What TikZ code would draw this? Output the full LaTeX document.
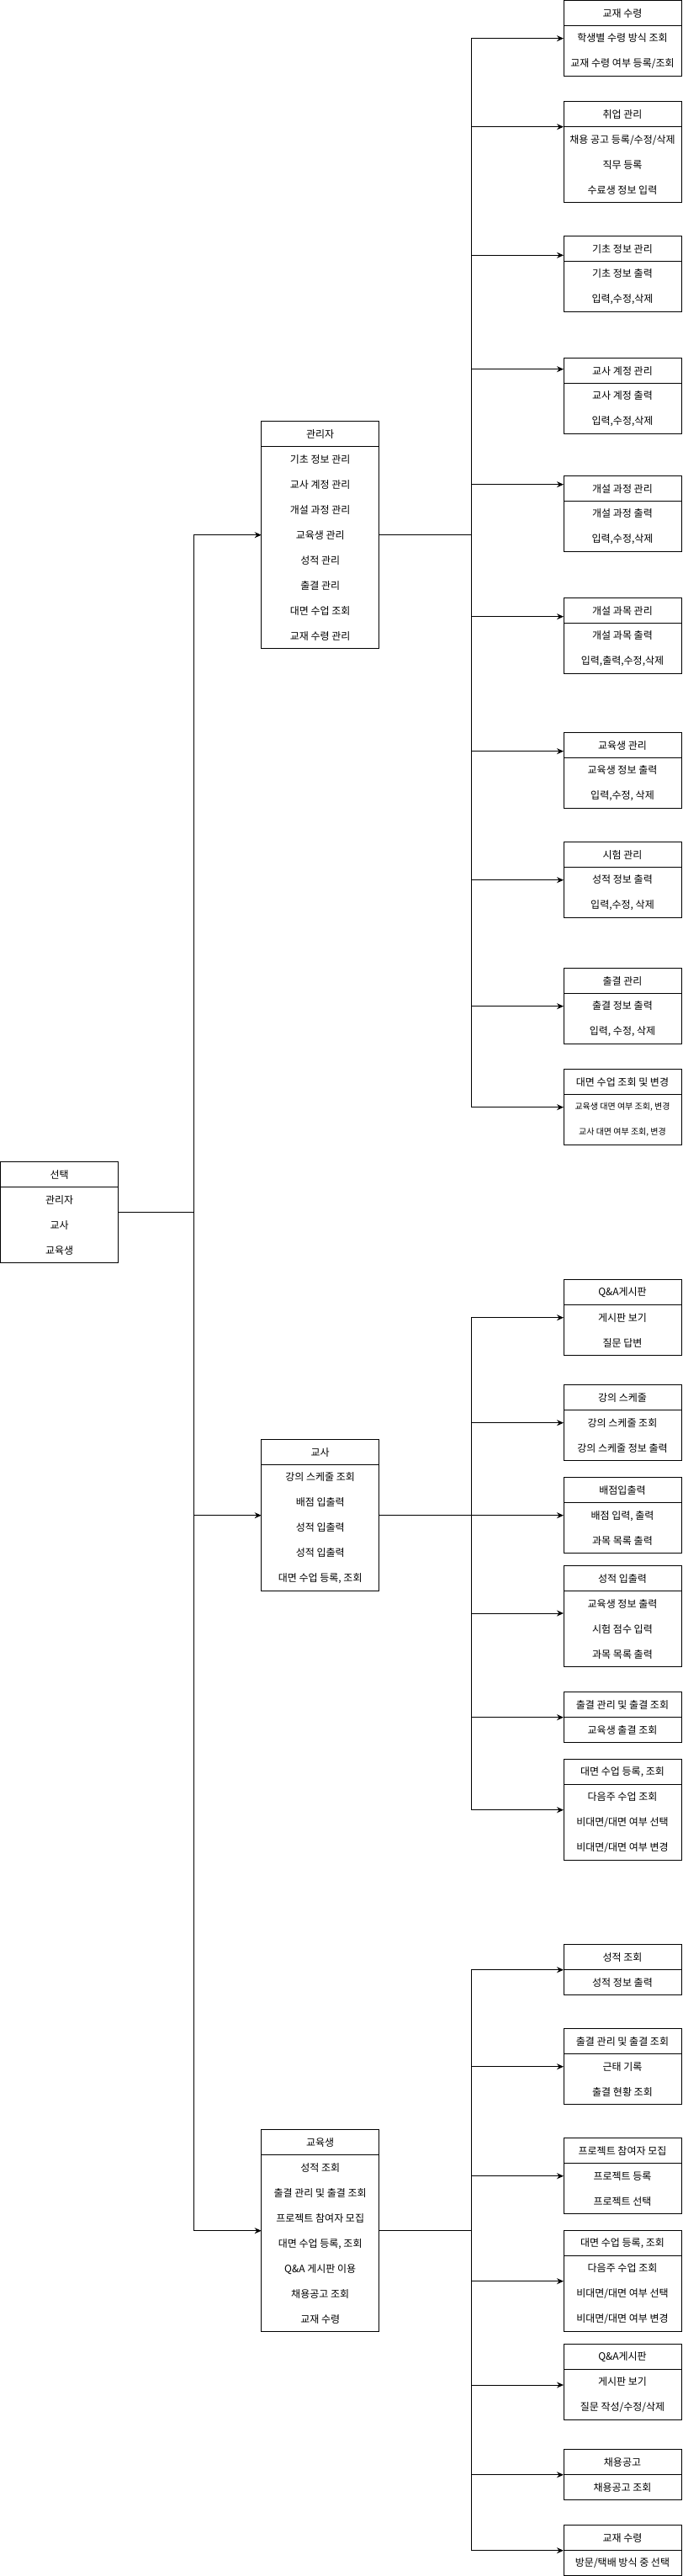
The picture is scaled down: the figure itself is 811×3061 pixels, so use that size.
\documentclass[tikz,border=0pt]{standalone}
\usepackage{fontspec}
\setmainfont{Noto Sans CJK KR}
\usetikzlibrary{positioning,arrows.meta}
\begin{document}
\begin{tikzpicture}[x=1pt,y=-1pt]
        \tikzstyle{every node}=[rectangle, draw=black, line width=1pt, inner sep=0pt, outer sep=0pt, minimum width=140pt, align=center, font=\fontsize{12}{30}\selectfont, text=black]
        \tikzstyle{head}=[minimum height=30pt, anchor=north west]
        \tikzstyle{edge}=[black, line width=1pt]
        \tikzstyle{arr}=[edge, -{Stealth[length=8pt, width=7pt]}]

        \useasboundingbox (0,0) rectangle (811,3061);

        % left: choice and the three roles
        \node[head] (sel) at (0.7,1380.7)         {선택};
        \node (selb) [below=0pt of sel, minimum height=90pt]  {관리자\\교사\\교육생};

        \node[head] (admin) at (310.7,500.7)      {관리자};
        \node (adminb) [below=0pt of admin, minimum height=240pt] {기초 정보 관리\\교사 계정 관리\\개설 과정 관리\\교육생 관리\\성적 관리\\출결 관리\\대면 수업 조회\\교재 수령 관리};
        \node[head] (teacher) at (310.7,1710.7)   {교사};
        \node (teacherb) [below=0pt of teacher, minimum height=150pt] {강의 스케줄 조회\\배점 입출력\\성적 입출력\\성적 입출력\\대면 수업 등록, 조회};
        \node[head] (student) at (310.7,2530.7)   {교육생};
        \node (studentb) [below=0pt of student, minimum height=210pt] {성적 조회\\출결 관리 및 출결 조회\\프로젝트 참여자 모집\\대면 수업 등록, 조회\\Q\&A 게시판 이용\\채용공고 조회\\교재 수령};

        % admin menus
        \node[head] (a1) at (670,0.7)      {교재 수령};
        \node (a1b) [below=0pt of a1, minimum height=60pt]   {학생별 수령 방식 조회\\교재 수령 여부 등록/조회};
        \node[head] (a2) at (670,120.7)    {취업 관리};
        \node (a2b) [below=0pt of a2, minimum height=90pt]   {채용 공고 등록/수정/삭제\\직무 등록\\수료생 정보 입력};
        \node[head] (a3) at (670,280.7)    {기초 정보 관리};
        \node (a3b) [below=0pt of a3, minimum height=60pt]   {기초 정보 출력\\입력,수정,삭제};
        \node[head] (a4) at (670,425.7)    {교사 계정 관리};
        \node (a4b) [below=0pt of a4, minimum height=60pt]   {교사 계정 출력\\입력,수정,삭제};
        \node[head] (a5) at (670,565.7)    {개설 과정 관리};
        \node (a5b) [below=0pt of a5, minimum height=60pt]   {개설 과정 출력\\입력,수정,삭제};
        \node[head] (a6) at (670,710.7)    {개설 과목 관리};
        \node (a6b) [below=0pt of a6, minimum height=60pt]   {개설 과목 출력\\입력,출력,수정,삭제};
        \node[head] (a7) at (670,870.7)    {교육생 관리};
        \node (a7b) [below=0pt of a7, minimum height=60pt]   {교육생 정보 출력\\입력,수정, 삭제};
        \node[head] (a8) at (670,1000.7)   {시험 관리};
        \node (a8b) [below=0pt of a8, minimum height=60pt]   {성적 정보 출력\\입력,수정, 삭제};
        \node[head] (a9) at (670,1150.7)   {출결 관리};
        \node (a9b) [below=0pt of a9, minimum height=60pt]   {출결 정보 출력\\입력, 수정, 삭제};
        \node[head] (a10) at (670,1270.7)  {대면 수업 조회 및 변경};
        \node (a10b) [below=0pt of a10, minimum height=60pt, font=\fontsize{10}{30}\selectfont] {교육생 대면 여부 조회, 변경\\교사 대면 여부 조회, 변경};

        % teacher menus
        \node[head] (t1) at (670,1520.7)   {Q\&A게시판};
        \node (t1b) [below=0pt of t1, minimum height=60pt]   {게시판 보기\\질문 답변};
        \node[head] (t2) at (670,1645.7)   {강의 스케줄};
        \node (t2b) [below=0pt of t2, minimum height=60pt]   {강의 스케줄 조회\\강의 스케줄 정보 출력};
        \node[head] (t3) at (670,1755.7)   {배점입출력};
        \node (t3b) [below=0pt of t3, minimum height=60pt]   {배점 입력, 출력\\과목 목록 출력};
        \node[head] (t4) at (670,1860.7)   {성적 입출력};
        \node (t4b) [below=0pt of t4, minimum height=90pt]   {교육생 정보 출력\\시험 점수 입력\\과목 목록 출력};
        \node[head] (t5) at (670,2010.7)   {출결 관리 및 출결 조회};
        \node (t5b) [below=0pt of t5, minimum height=30pt]   {교육생 출결 조회};
        \node[head] (t6) at (670,2090.7)   {대면 수업 등록, 조회};
        \node (t6b) [below=0pt of t6, minimum height=90pt]   {다음주 수업 조회\\비대면/대면 여부 선택\\비대면/대면 여부 변경};

        % student menus
        \node[head] (s1) at (670,2310.7)   {성적 조회};
        \node (s1b) [below=0pt of s1, minimum height=30pt]   {성적 정보 출력};
        \node[head] (s2) at (670,2410.7)   {출결 관리 및 출결 조회};
        \node (s2b) [below=0pt of s2, minimum height=60pt]   {근태 기록\\출결 현황 조회};
        \node[head] (s3) at (670,2540.7)   {프로젝트 참여자 모집};
        \node (s3b) [below=0pt of s3, minimum height=60pt]   {프로젝트 등록\\프로젝트 선택};
        \node[head] (s4) at (670,2650.7)   {대면 수업 등록, 조회};
        \node (s4b) [below=0pt of s4, minimum height=90pt]   {다음주 수업 조회\\비대면/대면 여부 선택\\비대면/대면 여부 변경};
        \node[head] (s5) at (670,2785.7)   {Q\&A게시판};
        \node (s5b) [below=0pt of s5, minimum height=60pt]   {게시판 보기\\질문 작성/수정/삭제};
        \node[head] (s6) at (670,2910.7)   {채용공고};
        \node (s6b) [below=0pt of s6, minimum height=30pt]   {채용공고 조회};
        \node[head] (s7) at (670,3000.7)   {교재 수령};
        \node (s7b) [below=0pt of s7, minimum height=30pt]   {방문/택배 방식 중 선택};

        % joints
        \coordinate (selj) at (230,1440.7);
        \coordinate (aj) at (560,635.7);
        \coordinate (tj) at (560,1800.7);
        \coordinate (sj) at (560,2650.7);

        \draw[edge] ([yshift=-45pt]sel.east) -- (selj);
        \draw[arr] (selj) |- ([yshift=-120pt]admin.west);
        \draw[arr] (selj) |- ([yshift=-75pt]teacher.west);
        \draw[arr] (selj) |- ([yshift=-105pt]student.west);

        \draw[edge] ([yshift=-120pt]admin.east) -- (aj);
        \draw[arr] (aj) |- ([yshift=-30pt]a1.west);
        \draw[arr] (aj) |- ([yshift=-15pt]a2.west);
        \draw[arr] (aj) |- ([yshift=-7.6pt]a3.west);
        \draw[arr] (aj) |- ([yshift=2pt]a4.west);
        \draw[arr] (aj) |- ([yshift=5pt]a5.west);
        \draw[arr] (aj) |- ([yshift=-7pt]a6.west);
        \draw[arr] (aj) |- ([yshift=-7pt]a7.west);
        \draw[arr] (aj) |- ([yshift=-30pt]a8.west);
        \draw[arr] (aj) |- ([yshift=-30pt]a9.west);
        \draw[arr] (aj) |- ([yshift=-30pt]a10.west);

        \draw[edge] ([yshift=-75pt]teacher.east) -- (tj);
        \draw[arr] (tj) |- ([yshift=-30pt]t1.west);
        \draw[arr] (tj) |- ([yshift=-30pt]t2.west);
        \draw[arr] (tj) |- ([yshift=-30pt]t3.west);
        \draw[arr] (tj) |- ([yshift=-41.3pt]t4.west);
        \draw[arr] (tj) |- ([yshift=-15pt]t5.west);
        \draw[arr] (tj) |- ([yshift=-45pt]t6.west);

        \draw[edge] ([yshift=-105pt]student.east) -- (sj);
        \draw[arr] (sj) |- ([yshift=-15pt]s1.west);
        \draw[arr] (sj) |- ([yshift=-30pt]s2.west);
        \draw[arr] (sj) |- ([yshift=-30pt]s3.west);
        \draw[arr] (sj) |- ([yshift=-45pt]s4.west);
        \draw[arr] (sj) |- ([yshift=-33.3pt]s5.west);
        \draw[arr] (sj) |- ([yshift=-15pt]s6.west);
        \draw[arr] (sj) |- ([yshift=-15pt]s7.west);
\end{tikzpicture}
\end{document}
